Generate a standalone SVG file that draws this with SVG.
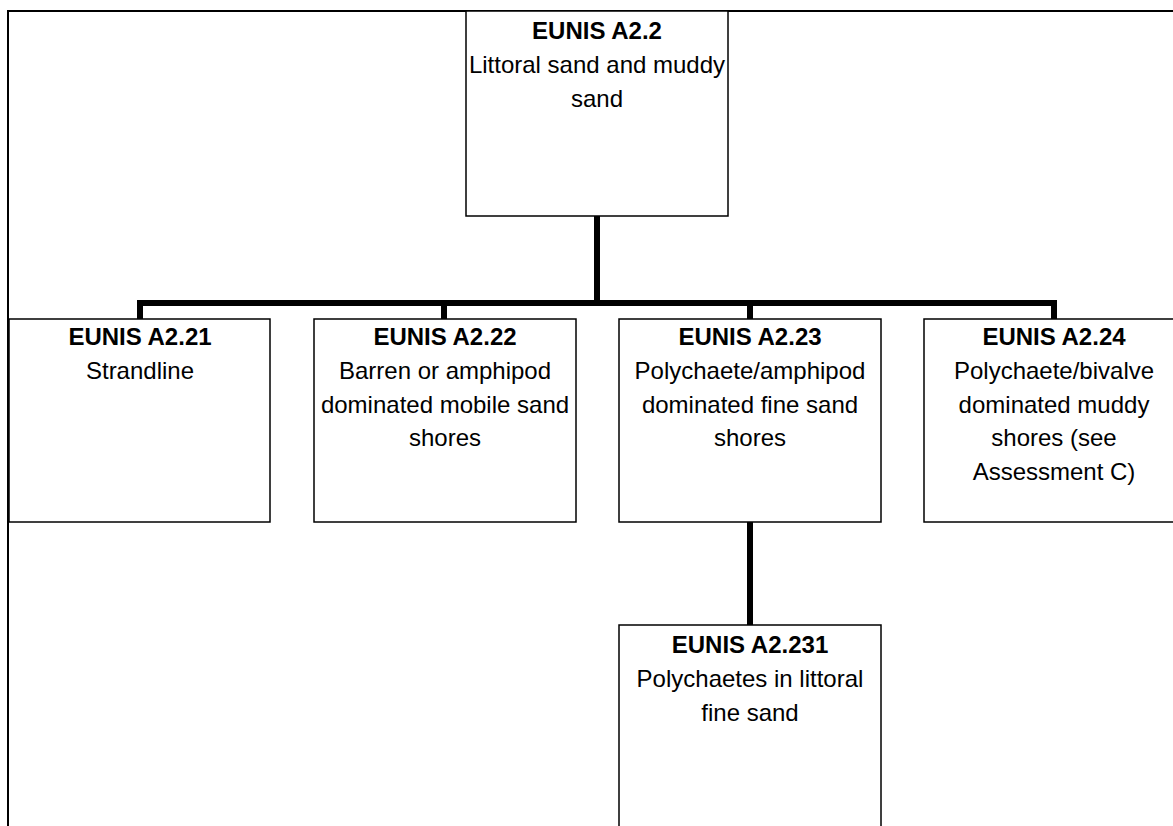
<svg xmlns="http://www.w3.org/2000/svg" width="1173" height="826" viewBox="0 0 1173 826">
  <style>
    .box { fill: #ffffff; stroke: #000000; stroke-width: 1.5; }
    .frame { fill: none; stroke: #000000; stroke-width: 2; }
    .link { fill: none; stroke: #000000; stroke-width: 6; stroke-linecap: butt; stroke-linejoin: miter; }
    text { font-family: "Liberation Sans", Arial, sans-serif; font-size: 24px; fill: #000000; text-anchor: middle; }
    .code { font-weight: bold; }
  </style>
  <rect width="1173" height="826" fill="#ffffff"/>

  <!-- outer frame (top and left edges) -->
  <path class="frame" d="M8,826 V11 H1173"/>

  <!-- connectors -->
  <g id="connectors">
    <path class="link" d="M597,216 V303"/>
    <path class="link" d="M140,319 V303 H1054 V319"/>
    <path class="link" d="M444,303 V319"/>
    <path class="link" d="M750,303 V319"/>
    <path class="link" d="M750,522 V625"/>
  </g>

  <g id="node-a2-2">
    <rect class="box" x="466" y="11" width="262" height="205"/>
    <text x="597" y="39" class="code">EUNIS A2.2</text>
    <text x="597" y="73">Littoral sand and muddy</text>
    <text x="597" y="107">sand</text>
  </g>

  <g id="node-a2-21">
    <rect class="box" x="9" y="319" width="261" height="203"/>
    <text x="140" y="345" class="code">EUNIS A2.21</text>
    <text x="140" y="379">Strandline</text>
  </g>

  <g id="node-a2-22">
    <rect class="box" x="314" y="319" width="262" height="203"/>
    <text x="445" y="345" class="code">EUNIS A2.22</text>
    <text x="445" y="379">Barren or amphipod</text>
    <text x="445" y="413">dominated mobile sand</text>
    <text x="445" y="446">shores</text>
  </g>

  <g id="node-a2-23">
    <rect class="box" x="619" y="319" width="262" height="203"/>
    <text x="750" y="345" class="code">EUNIS A2.23</text>
    <text x="750" y="379">Polychaete/amphipod</text>
    <text x="750" y="413">dominated fine sand</text>
    <text x="750" y="446">shores</text>
  </g>

  <g id="node-a2-24">
    <rect class="box" x="924" y="319" width="260" height="203"/>
    <text x="1054" y="345" class="code">EUNIS A2.24</text>
    <text x="1054" y="379">Polychaete/bivalve</text>
    <text x="1054" y="413">dominated muddy</text>
    <text x="1054" y="446">shores (see</text>
    <text x="1054" y="480">Assessment C)</text>
  </g>

  <g id="node-a2-231">
    <rect class="box" x="619" y="625" width="262" height="220"/>
    <text x="750" y="653" class="code">EUNIS A2.231</text>
    <text x="750" y="687">Polychaetes in littoral</text>
    <text x="750" y="721">fine sand</text>
  </g>
</svg>
